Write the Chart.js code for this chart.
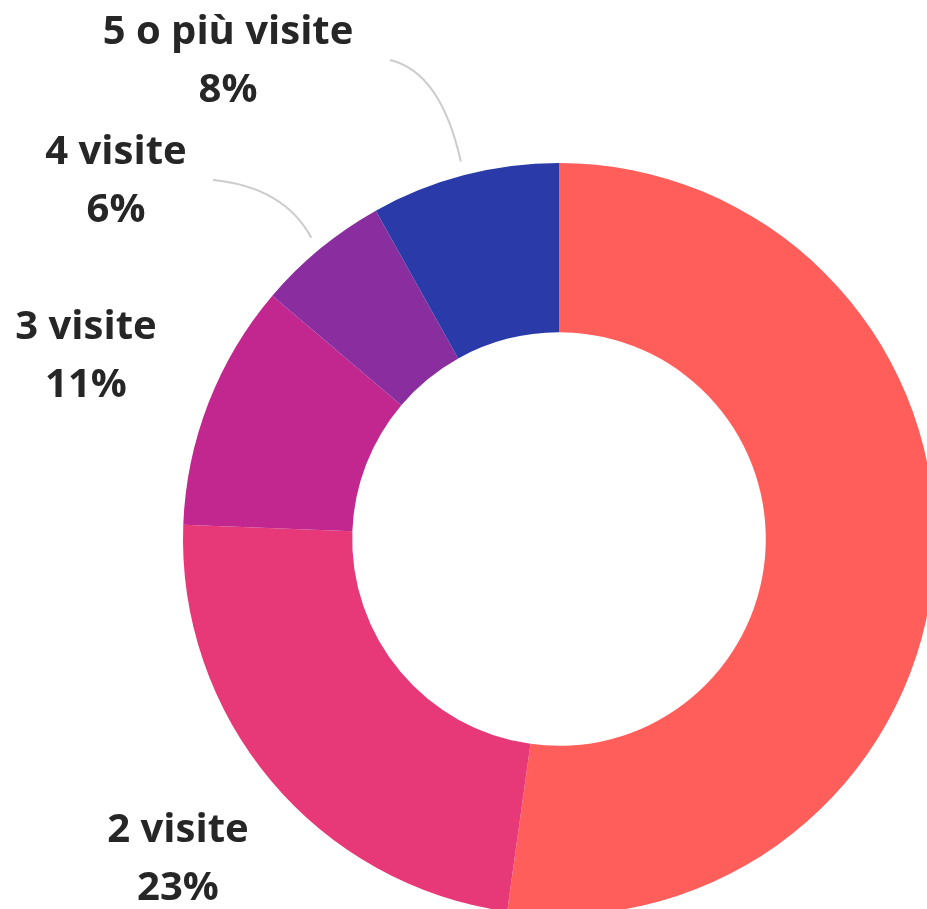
<!DOCTYPE html>
<html>
<head>
<meta charset="utf-8">
<script src="https://cdn.jsdelivr.net/npm/chart.js@4"></script>
<style>
  html, body { margin: 0; padding: 0; background: #ffffff; overflow: hidden; width: 927px; height: 909px; }
  #wrap { position: absolute; left: 0; top: 0; width: 1118px; height: 1078px; }
</style>
</head>
<body>
<div id="wrap"><canvas id="c" width="1118" height="1078"></canvas></div>
<script>
// ---- data ----
const categories = ['1 visita', '2 visite', '3 visite', '4 visite', '5 o più visite'];
const shares = [52.2, 23.4, 10.6, 5.7, 8.1];
const percentLabels = ['52%', '23%', '11%', '6%', '8%'];
const sliceColors = ['#FF5E5B', '#E73877', '#C1278E', '#8A2E9F', '#2A3AA8'];

// ---- label layout (label centre positions; null = outside the visible picture) ----
const labelLayout = [
  null,
  { x: 178, y1: 842, y2: 900, connector: null },
  { x: 86,  y1: 339, y2: 397, connector: null },
  { x: 116, y1: 164, y2: 222, connector: { x: 213, y: 180 } },
  { x: 228, y1: 44,  y2: 102, connector: { x: 390, y: 60 } }
];

const labelPlugin = {
  id: 'sliceLabels',
  afterDatasetsDraw(chart) {
    const ctx = chart.ctx;
    const meta = chart.getDatasetMeta(0);
    ctx.save();
    meta.data.forEach((arc, i) => {
      const lay = labelLayout[i];
      if (!lay) return;
      const p = arc.getProps(['x', 'y', 'startAngle', 'endAngle', 'outerRadius'], true);
      if (lay.connector) {
        const mid = (p.startAngle + p.endAngle) / 2;
        const r = p.outerRadius + 14;
        const ex = p.x + Math.cos(mid) * r;
        const ey = p.y + Math.sin(mid) * r;
        const sx = lay.connector.x, sy = lay.connector.y;
        const cx = sx + 0.72 * (ex - sx);
        const cy = sy + 0.12 * (ey - sy);
        ctx.beginPath();
        ctx.moveTo(sx, sy);
        ctx.quadraticCurveTo(cx, cy, ex, ey);
        ctx.strokeStyle = '#cccccc';
        ctx.lineWidth = 2;
        ctx.stroke();
      }
      ctx.fillStyle = '#262626';
      ctx.textAlign = 'center';
      ctx.textBaseline = 'alphabetic';
      ctx.font = '700 40px "Open Sans", Lato, sans-serif';
      ctx.fillText(categories[i], lay.x, lay.y1);
      ctx.fillText(percentLabels[i], lay.x, lay.y2);
    });
    ctx.restore();
  }
};

new Chart(document.getElementById('c'), {
  type: 'doughnut',
  data: {
    labels: categories,
    datasets: [{
      data: shares,
      backgroundColor: sliceColors,
      borderWidth: 0,
      hoverOffset: 0
    }]
  },
  options: {
    responsive: false,
    animation: false,
    cutout: '55%',
    rotation: 0,
    layout: { padding: { left: 183, right: 183, top: 163, bottom: 163 } },
    plugins: {
      legend: { display: false },
      tooltip: { enabled: false }
    }
  },
  plugins: [labelPlugin]
});
</script>
</body>
</html>
